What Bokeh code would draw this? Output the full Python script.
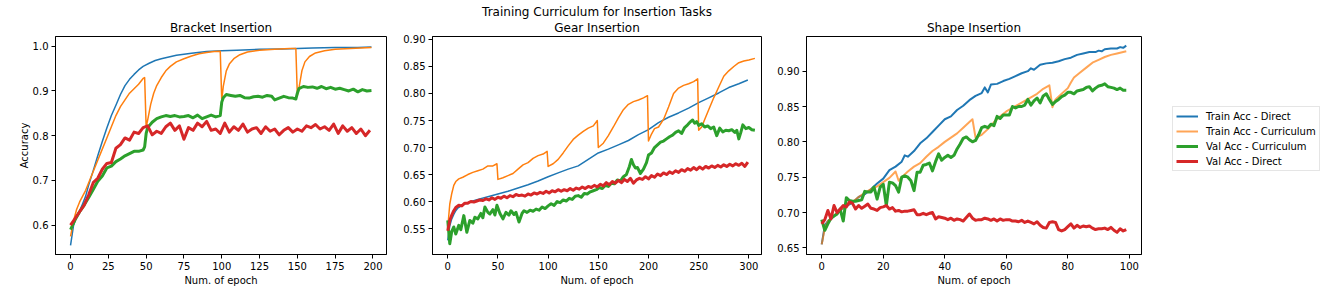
from bokeh.plotting import figure
from bokeh.layouts import row
from bokeh.models import Range1d, FixedTicker, PrintfTickFormatter, Legend, LegendItem, Title
from bokeh.embed import file_html
from bokeh.resources import INLINE

FONT = "DejaVu Sans"
BLUE, ORANGE, GREEN, RED = "#1f77b4", "#ff7f0e", "#2ca02c", "#d62728"

SUPTITLE = "Training Curriculum for Insertion Tasks"
TITLES = ["Bracket Insertion", "Gear Insertion", "Shape Insertion"]
XLABEL = "Num. of epoch"
YLABEL = "Accuracy"
LABELS = ["Train Acc - Direct", "Train Acc - Curriculum", "Val Acc - Curriculum", "Val Acc - Direct"]

# ---------------- Bracket Insertion ----------------
br_train_direct_x = [0, 2, 4, 6, 8, 10, 12, 15, 18, 21, 24, 27, 30, 33, 36, 39, 42, 45, 48, 52, 56, 60, 65, 70, 75, 80, 90, 100, 110, 125, 140, 150, 160, 175, 190, 199]
br_train_direct_y = [0.555, 0.600, 0.620, 0.632, 0.648, 0.665, 0.690, 0.722, 0.755, 0.787, 0.817, 0.845, 0.868, 0.892, 0.912, 0.926, 0.937, 0.947, 0.955, 0.962, 0.968, 0.972, 0.976, 0.980, 0.982, 0.984, 0.988, 0.990, 0.991, 0.993, 0.994, 0.995, 0.996, 0.997, 0.997, 0.998]

br_train_curr_x = [0, 2, 4, 6, 8, 10, 12, 15, 18, 21, 24, 27, 30, 33, 36, 39, 42, 45, 48, 49, 50, 51, 53, 55, 57, 60, 63, 66, 70, 75, 80, 85, 90, 95, 99, 100, 101, 103, 105, 108, 112, 117, 125, 135, 145, 149, 150, 151, 153, 155, 158, 162, 168, 175, 185, 199]
br_train_curr_y = [0.575, 0.610, 0.635, 0.652, 0.665, 0.678, 0.695, 0.720, 0.745, 0.770, 0.795, 0.820, 0.845, 0.865, 0.880, 0.895, 0.905, 0.915, 0.928, 0.930, 0.820, 0.835, 0.870, 0.895, 0.912, 0.930, 0.945, 0.955, 0.965, 0.972, 0.978, 0.983, 0.986, 0.988, 0.989, 0.880, 0.910, 0.945, 0.960, 0.972, 0.981, 0.987, 0.991, 0.993, 0.995, 0.995, 0.890, 0.905, 0.945, 0.965, 0.977, 0.985, 0.990, 0.993, 0.995, 0.997]

br_val_curr_x = [0, 3, 6, 9, 12, 15, 18, 21, 24, 27, 30, 33, 36, 39, 42, 45, 48, 49, 50, 51, 54, 57, 60, 63, 66, 69, 72, 75, 78, 81, 84, 87, 90, 93, 96, 99, 100, 101, 103, 106, 109, 112, 115, 118, 121, 124, 127, 130, 133, 135, 138, 141, 144, 147, 149, 150, 151, 154, 157, 160, 163, 166, 169, 172, 175, 178, 181, 184, 187, 190, 193, 196, 199]
br_val_curr_y = [0.590, 0.612, 0.630, 0.645, 0.662, 0.680, 0.698, 0.710, 0.728, 0.732, 0.742, 0.748, 0.755, 0.760, 0.765, 0.765, 0.768, 0.775, 0.805, 0.818, 0.830, 0.838, 0.842, 0.845, 0.843, 0.845, 0.842, 0.843, 0.845, 0.840, 0.846, 0.838, 0.842, 0.846, 0.842, 0.845, 0.875, 0.885, 0.892, 0.890, 0.888, 0.890, 0.885, 0.884, 0.887, 0.888, 0.886, 0.890, 0.888, 0.880, 0.884, 0.888, 0.885, 0.884, 0.882, 0.895, 0.905, 0.910, 0.908, 0.909, 0.906, 0.910, 0.905, 0.908, 0.904, 0.906, 0.903, 0.900, 0.904, 0.898, 0.903, 0.900, 0.901]

br_val_direct_x = list(range(0, 199, 3))
br_val_direct_y = [0.600, 0.615, 0.630, 0.645, 0.668, 0.695, 0.705, 0.725, 0.738, 0.740, 0.772, 0.780, 0.795, 0.790, 0.808, 0.805, 0.818, 0.822, 0.802, 0.810, 0.805, 0.820, 0.828, 0.812, 0.822, 0.792, 0.818, 0.812, 0.828, 0.820, 0.832, 0.812, 0.815, 0.805, 0.828, 0.808, 0.820, 0.812, 0.826, 0.808, 0.815, 0.818, 0.805, 0.820, 0.810, 0.815, 0.802, 0.812, 0.818, 0.808, 0.815, 0.810, 0.822, 0.818, 0.825, 0.815, 0.820, 0.812, 0.826, 0.805, 0.822, 0.810, 0.818, 0.805, 0.815, 0.800, 0.812]

# ---------------- Gear Insertion ----------------
ge_train_direct_x = [0, 2, 4, 6, 8, 10, 15, 20, 25, 30, 40, 50, 60, 70, 80, 90, 100, 110, 120, 130, 140, 150, 160, 170, 180, 190, 200, 210, 220, 230, 240, 250, 260, 270, 280, 290, 299]
ge_train_direct_y = [0.528, 0.555, 0.568, 0.576, 0.583, 0.588, 0.594, 0.598, 0.601, 0.604, 0.609, 0.614, 0.619, 0.625, 0.631, 0.638, 0.646, 0.653, 0.660, 0.666, 0.678, 0.690, 0.697, 0.705, 0.713, 0.724, 0.733, 0.746, 0.756, 0.764, 0.773, 0.783, 0.792, 0.801, 0.811, 0.818, 0.825]

ge_train_curr_x = [0, 2, 4, 6, 8, 11, 15, 20, 25, 30, 35, 40, 45, 49, 50, 55, 60, 65, 70, 75, 80, 85, 90, 95, 99, 100, 105, 110, 115, 120, 125, 130, 135, 140, 145, 149, 150, 155, 160, 165, 170, 175, 180, 185, 190, 195, 199, 200, 203, 206, 210, 215, 220, 225, 230, 235, 240, 245, 249, 250, 253, 256, 260, 265, 270, 275, 280, 285, 290, 295, 300, 306]
ge_train_curr_y = [0.552, 0.595, 0.615, 0.630, 0.637, 0.642, 0.645, 0.650, 0.654, 0.657, 0.660, 0.666, 0.666, 0.670, 0.641, 0.644, 0.648, 0.652, 0.660, 0.668, 0.672, 0.680, 0.685, 0.688, 0.693, 0.665, 0.670, 0.678, 0.690, 0.703, 0.715, 0.723, 0.730, 0.736, 0.740, 0.750, 0.700, 0.708, 0.722, 0.738, 0.755, 0.770, 0.780, 0.785, 0.788, 0.792, 0.796, 0.712, 0.725, 0.735, 0.738, 0.752, 0.775, 0.800, 0.810, 0.815, 0.818, 0.822, 0.827, 0.732, 0.738, 0.752, 0.770, 0.792, 0.812, 0.832, 0.842, 0.850, 0.857, 0.860, 0.862, 0.865]

ge_val_curr_x = [0, 2, 4, 6, 8, 11, 13, 16, 19, 22, 25, 27, 30, 33, 35, 37, 40, 42, 45, 47, 49, 52, 55, 58, 61, 63, 66, 68, 71, 74, 76, 79, 82, 85, 88, 91, 94, 97, 100, 103, 106, 109, 112, 115, 118, 121, 124, 127, 130, 133, 136, 139, 142, 145, 148, 151, 154, 157, 160, 163, 166, 169, 172, 175, 178, 181, 183, 185, 187, 189, 192, 195, 198, 200, 203, 206, 209, 212, 215, 218, 221, 224, 227, 230, 233, 236, 239, 242, 244, 246, 248, 250, 253, 256, 259, 262, 265, 268, 271, 274, 277, 280, 283, 286, 288, 290, 292, 294, 297, 300, 303, 306]
ge_val_curr_y = [0.565, 0.522, 0.545, 0.553, 0.540, 0.556, 0.548, 0.574, 0.543, 0.565, 0.560, 0.571, 0.568, 0.578, 0.570, 0.590, 0.580, 0.577, 0.585, 0.575, 0.593, 0.578, 0.568, 0.580, 0.575, 0.583, 0.576, 0.580, 0.562, 0.578, 0.583, 0.580, 0.584, 0.582, 0.586, 0.584, 0.590, 0.587, 0.592, 0.596, 0.593, 0.600, 0.598, 0.603, 0.601, 0.606, 0.604, 0.610, 0.611, 0.608, 0.615, 0.614, 0.618, 0.620, 0.622, 0.626, 0.624, 0.630, 0.628, 0.634, 0.633, 0.640, 0.638, 0.646, 0.650, 0.665, 0.678, 0.668, 0.662, 0.663, 0.652, 0.660, 0.672, 0.686, 0.690, 0.700, 0.705, 0.710, 0.712, 0.716, 0.720, 0.723, 0.728, 0.731, 0.726, 0.737, 0.742, 0.748, 0.751, 0.745, 0.748, 0.741, 0.744, 0.738, 0.740, 0.735, 0.738, 0.722, 0.736, 0.729, 0.732, 0.731, 0.733, 0.728, 0.732, 0.716, 0.728, 0.742, 0.735, 0.737, 0.733, 0.732]

ge_val_direct_x = [0, 2, 4, 6] + list(range(8, 303, 3))
ge_val_direct_y = [0.546, 0.565, 0.575, 0.583, 0.589, 0.593, 0.592, 0.597, 0.597, 0.600, 0.599, 0.601, 0.603, 0.602, 0.605, 0.603, 0.607, 0.604, 0.608, 0.606, 0.610, 0.607, 0.611, 0.609, 0.613, 0.611, 0.612, 0.610, 0.614, 0.612, 0.616, 0.614, 0.617, 0.615, 0.619, 0.616, 0.620, 0.618, 0.622, 0.619, 0.622, 0.620, 0.624, 0.621, 0.625, 0.623, 0.627, 0.624, 0.628, 0.626, 0.630, 0.627, 0.632, 0.629, 0.635, 0.631, 0.637, 0.634, 0.639, 0.635, 0.641, 0.637, 0.643, 0.634, 0.640, 0.643, 0.641, 0.646, 0.642, 0.648, 0.645, 0.651, 0.648, 0.653, 0.650, 0.655, 0.652, 0.657, 0.654, 0.659, 0.656, 0.661, 0.658, 0.663, 0.659, 0.664, 0.660, 0.665, 0.662, 0.666, 0.663, 0.667, 0.664, 0.668, 0.665, 0.669, 0.666, 0.670, 0.667, 0.671, 0.665, 0.673]

# ---------------- Shape Insertion ----------------
sh_train_direct_x = [0, 1, 2, 4, 6, 8, 10, 12, 14, 16, 18, 20, 22, 24, 26, 27, 28, 30, 32, 34, 36, 38, 40, 42, 44, 46, 48, 50, 52, 53, 54, 55, 57, 59, 61, 63, 65, 67, 68, 69, 71, 73, 75, 77, 79, 81, 83, 85, 87, 89, 90, 91, 92, 94, 96, 97, 98, 99]
sh_train_direct_y = [0.655, 0.682, 0.688, 0.695, 0.703, 0.709, 0.714, 0.722, 0.726, 0.733, 0.741, 0.748, 0.760, 0.765, 0.772, 0.781, 0.779, 0.787, 0.798, 0.805, 0.814, 0.823, 0.832, 0.836, 0.845, 0.851, 0.859, 0.865, 0.869, 0.877, 0.870, 0.881, 0.882, 0.886, 0.889, 0.893, 0.897, 0.900, 0.904, 0.902, 0.909, 0.911, 0.912, 0.914, 0.917, 0.919, 0.923, 0.925, 0.927, 0.927, 0.929, 0.928, 0.931, 0.932, 0.932, 0.934, 0.933, 0.936]

sh_train_curr_x = [0, 1, 2, 4, 6, 8, 10, 12, 14, 16, 18, 20, 22, 24, 25, 26, 28, 30, 32, 34, 36, 38, 40, 42, 44, 46, 48, 49, 50, 52, 54, 56, 58, 60, 62, 64, 66, 68, 70, 72, 74, 75, 76, 78, 80, 81, 82, 84, 86, 88, 90, 92, 94, 96, 98, 99]
sh_train_curr_y = [0.655, 0.678, 0.688, 0.696, 0.703, 0.710, 0.715, 0.722, 0.728, 0.733, 0.737, 0.743, 0.749, 0.758, 0.745, 0.750, 0.758, 0.765, 0.770, 0.779, 0.787, 0.793, 0.800, 0.806, 0.812, 0.820, 0.828, 0.832, 0.806, 0.810, 0.818, 0.828, 0.836, 0.843, 0.848, 0.853, 0.858, 0.863, 0.868, 0.875, 0.880, 0.849, 0.860, 0.868, 0.876, 0.884, 0.891, 0.898, 0.905, 0.912, 0.916, 0.920, 0.923, 0.925, 0.927, 0.928]

sh_epochs = list(range(100))
sh_val_curr_y = [0.690, 0.675, 0.684, 0.692, 0.695, 0.698, 0.705, 0.688, 0.721, 0.717, 0.716, 0.716, 0.717, 0.718, 0.730, 0.729, 0.729, 0.736, 0.719, 0.736, 0.740, 0.710, 0.743, 0.742, 0.738, 0.729, 0.750, 0.752, 0.750, 0.745, 0.731, 0.757, 0.757, 0.767, 0.768, 0.770, 0.759, 0.772, 0.783, 0.774, 0.778, 0.781, 0.778, 0.781, 0.790, 0.797, 0.805, 0.807, 0.803, 0.800, 0.802, 0.810, 0.820, 0.822, 0.820, 0.825, 0.823, 0.836, 0.833, 0.838, 0.838, 0.838, 0.850, 0.848, 0.850, 0.850, 0.852, 0.860, 0.852, 0.858, 0.862, 0.855, 0.865, 0.868, 0.860, 0.853, 0.857, 0.860, 0.864, 0.866, 0.870, 0.870, 0.868, 0.872, 0.873, 0.874, 0.877, 0.878, 0.872, 0.876, 0.879, 0.880, 0.882, 0.878, 0.877, 0.876, 0.874, 0.876, 0.873, 0.873]
sh_val_direct_y = [0.684, 0.690, 0.703, 0.691, 0.710, 0.700, 0.705, 0.710, 0.708, 0.715, 0.713, 0.705, 0.710, 0.706, 0.709, 0.712, 0.706, 0.705, 0.703, 0.707, 0.708, 0.710, 0.705, 0.707, 0.702, 0.703, 0.701, 0.702, 0.702, 0.703, 0.704, 0.697, 0.697, 0.699, 0.697, 0.699, 0.700, 0.691, 0.694, 0.693, 0.692, 0.690, 0.692, 0.689, 0.691, 0.690, 0.688, 0.693, 0.698, 0.692, 0.689, 0.690, 0.690, 0.692, 0.691, 0.689, 0.691, 0.688, 0.691, 0.689, 0.690, 0.690, 0.688, 0.688, 0.687, 0.689, 0.686, 0.688, 0.686, 0.684, 0.687, 0.682, 0.679, 0.678, 0.686, 0.687, 0.686, 0.676, 0.674, 0.676, 0.680, 0.684, 0.678, 0.682, 0.679, 0.681, 0.680, 0.681, 0.678, 0.676, 0.677, 0.677, 0.678, 0.676, 0.679, 0.675, 0.672, 0.677, 0.674, 0.676]


def style_title(t, offset=0, standoff=4):
    t.align = "center"
    t.offset = offset
    t.text_font = FONT
    t.text_font_size = "12px"
    t.text_font_style = "normal"
    t.text_color = "black"
    t.standoff = standoff


def styled(title, xr, yr, xticks, yticks, fmt, fw, bl, br, ylabel=None):
    p = figure(frame_width=fw, frame_height=218,
               x_range=Range1d(*xr), y_range=Range1d(*yr),
               output_backend="svg", toolbar_location=None,
               min_border_left=bl, min_border_right=br,
               min_border_top=36, min_border_bottom=34,
               background_fill_color="white", border_fill_color="white")
    p.title.text = title
    style_title(p.title)
    p.xgrid.visible = False
    p.ygrid.visible = False
    p.outline_line_color = "black"
    p.outline_line_width = 1
    p.outline_line_alpha = 1
    p.xaxis.ticker = FixedTicker(ticks=xticks)
    p.yaxis.ticker = FixedTicker(ticks=yticks)
    p.yaxis.formatter = PrintfTickFormatter(format=fmt)
    for ax in (p.xaxis[0], p.yaxis[0]):
        ax.major_tick_in = 0
        ax.major_tick_out = 4
        ax.minor_tick_line_color = None
        ax.axis_line_color = "black"
        ax.major_tick_line_color = "black"
        ax.major_label_text_font = FONT
        ax.major_label_text_font_size = "10px"
        ax.major_label_text_color = "black"
        ax.major_label_standoff = 3
        ax.axis_label_text_font = FONT
        ax.axis_label_text_font_size = "10px"
        ax.axis_label_text_font_style = "normal"
        ax.axis_label_text_color = "black"
        ax.axis_label_standoff = 2
    p.xaxis.axis_label = XLABEL
    if ylabel:
        p.yaxis.axis_label = ylabel
        p.yaxis.axis_label_standoff = 0
    return p


def four(p, series, widths, alphas):
    out = []
    for (x, y), c, w, a in zip(series, [BLUE, ORANGE, GREEN, RED], widths, alphas):
        out.append(p.line(x, y, line_color=c, line_width=w, line_alpha=a, line_join="round"))
    return out

BR_X, BR_Y = (-9.95, 208.95), (0.5345, 1.0217)
GE_X, GE_Y = (-15.2, 312.6), (0.502, 0.9055)
SH_X, SH_Y = (-4.95, 103.95), (0.6407, 0.949)

p1 = styled(TITLES[0], BR_X, BR_Y, [0, 25, 50, 75, 100, 125, 150, 175, 200],
            [0.6, 0.7, 0.8, 0.9, 1.0], "%.1f", 331, 55, 10, ylabel=YLABEL)
four(p1, [(br_train_direct_x, br_train_direct_y), (br_train_curr_x, br_train_curr_y),
          (br_val_curr_x, br_val_curr_y), (br_val_direct_x, br_val_direct_y)],
     [1.5, 1.5, 3, 3], [1, 1, 1, 1])

# middle figure: the figure-wide title is the outer title, the panel title sits just above the frame
p2 = styled(SUPTITLE, GE_X, GE_Y, [0, 50, 100, 150, 200, 250, 300],
            [0.55, 0.60, 0.65, 0.70, 0.75, 0.80, 0.85, 0.90], "%.2f", 329, 36, 10)
style_title(p2.title, offset=-11, standoff=-4)
gear_title = Title(text=TITLES[1])
style_title(gear_title, standoff=4)
p2.add_layout(gear_title, "above")
four(p2, [(ge_train_direct_x, ge_train_direct_y), (ge_train_curr_x, ge_train_curr_y),
          (ge_val_curr_x, ge_val_curr_y), (ge_val_direct_x, ge_val_direct_y)],
     [1.5, 1.5, 3, 3], [1, 1, 1, 1])

p3 = styled(TITLES[2], SH_X, SH_Y, [0, 20, 40, 60, 80, 100],
            [0.65, 0.70, 0.75, 0.80, 0.85, 0.90], "%.2f", 335, 35, 190)
r3 = four(p3, [(sh_train_direct_x, sh_train_direct_y), (sh_train_curr_x, sh_train_curr_y),
               (sh_epochs, sh_val_curr_y), (sh_epochs, sh_val_direct_y)],
          [2, 2, 3, 3], [1, 0.7, 1, 1])

legend = Legend(items=[LegendItem(label=l, renderers=[r]) for l, r in zip(LABELS, r3)],
                location=(31, 83), margin=0, padding=3, spacing=3,
                label_text_font=FONT, label_text_font_size="10px", label_text_color="black",
                label_height=12, glyph_height=12, glyph_width=22, label_standoff=8,
                border_line_color="#cccccc", border_line_width=1,
                background_fill_color="white", background_fill_alpha=0.8)
p3.add_layout(legend, "right")

layout = row(p1, p2, p3)
open("out.html", "w").write(file_html(layout, INLINE))
